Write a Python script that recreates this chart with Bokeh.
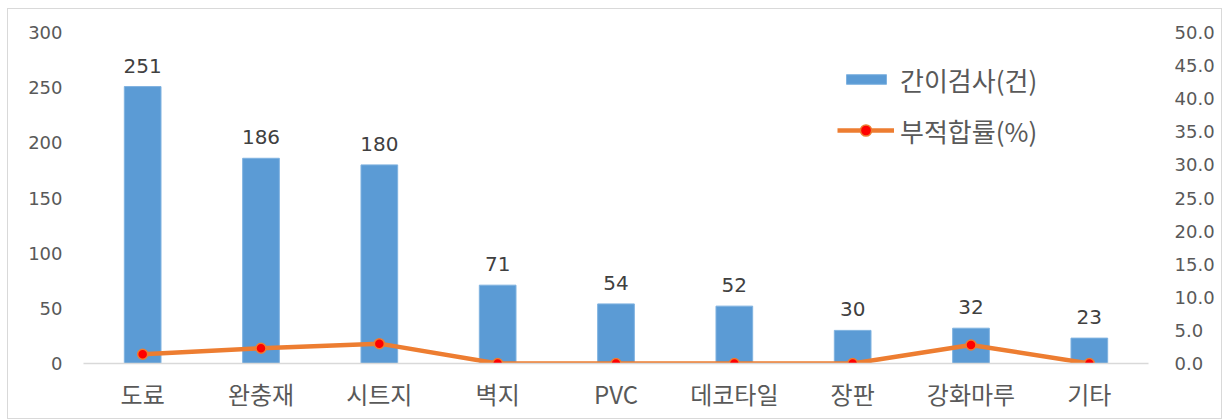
from bokeh.plotting import figure
from bokeh.models import (Range1d, LinearAxis, FixedTicker, NumeralTickFormatter,
                          ColumnDataSource, Legend, LegendItem, LabelSet)
from bokeh.embed import file_html
from bokeh.resources import INLINE
from bokeh.core.properties import value

categories = ["도료", "완충재", "시트지", "벽지", "PVC", "데코타일", "장판", "강화마루", "기타"]
counts = [251, 186, 180, 71, 54, 52, 30, 32, 23]
rates = [1.4, 2.3, 3.0, 0.0, 0.0, 0.0, 0.0, 2.8, 0.0]
left_ticks = [0, 50, 100, 150, 200, 250, 300]
right_ticks = [0, 5, 10, 15, 20, 25, 30, 35, 40, 45, 50]
bar_name = "간이검사(건)"
line_name = "부적합률(%)"

KFONT = "Noto Sans CJK KR"
NFONT = "DejaVu Sans"
BAR_C = "#5B9BD5"
LINE_C = "#ED7D31"
TXT = "#595959"

src = ColumnDataSource(dict(cat=categories, count=counts, rate=rates,
                            label=[str(c) for c in counts]))

p = figure(x_range=categories, y_range=Range1d(0, 300), width=1215, height=411,
           output_backend="svg", toolbar_location=None,
           min_border_left=75, min_border_right=75, min_border_top=23, min_border_bottom=57)
p.extra_y_ranges = {"rate": Range1d(0, 50)}
p.styles = {"margin-left": "7px", "margin-top": "8px", "border": "1px solid #D9D9D9"}

p.xgrid.grid_line_color = None
p.ygrid.grid_line_color = None
p.outline_line_color = None

bars = p.vbar(x="cat", top="count", width=0.31, source=src, fill_color=BAR_C,
              line_color="#7FB2E0", line_width=1)
ln = p.line(x="cat", y="rate", source=src, y_range_name="rate", line_color=LINE_C,
            line_width=4.5)
mk = p.scatter(x="cat", y="rate", source=src, y_range_name="rate", size=10,
               fill_color="#FF0000", line_color=LINE_C, line_width=1.5)

labels = LabelSet(x="cat", y="count", text="label", source=src, y_offset=21,
                  text_align="center", text_baseline="middle",
                  text_font=value(NFONT), text_font_size="20px", text_color="#404040")
p.add_layout(labels)

# left axis
la = p.yaxis[0]
la.ticker = FixedTicker(ticks=left_ticks)
la.axis_line_color = None
la.major_tick_line_color = None
la.minor_tick_line_color = None
la.major_label_text_font = NFONT
la.major_label_text_font_size = "18px"
la.major_label_text_color = TXT
la.major_label_standoff = 15

# right axis
ra = LinearAxis(y_range_name="rate", ticker=FixedTicker(ticks=right_ticks),
                formatter=NumeralTickFormatter(format="0.0"))
ra.axis_line_color = None
ra.major_tick_line_color = None
ra.minor_tick_line_color = None
ra.major_label_text_font = NFONT
ra.major_label_text_font_size = "18px"
ra.major_label_text_color = TXT
ra.major_label_standoff = 20
p.add_layout(ra, "right")

# bottom axis
xa = p.xaxis[0]
xa.axis_line_color = "#D9D9D9"
xa.axis_line_width = 1.5
xa.major_tick_line_color = None
xa.minor_tick_line_color = None
xa.major_label_text_font = KFONT
xa.major_label_text_font_size = "24px"
xa.major_label_text_color = TXT
xa.major_label_standoff = 6

common = dict(orientation="vertical", padding=0, margin=0, label_height=38,
              label_text_font=KFONT, label_text_font_size="26px",
              label_text_color=TXT, border_line_alpha=0, background_fill_alpha=0)
leg1 = Legend(items=[LegendItem(label=bar_name, renderers=[bars])],
              location=(758, 265), glyph_width=50, glyph_height=12,
              label_standoff=9, **common)
leg2 = Legend(items=[LegendItem(label=line_name, renderers=[ln, mk])],
              location=(754, 214), glyph_width=57, glyph_height=28,
              label_standoff=6, **common)
p.add_layout(leg1)
p.add_layout(leg2)

open("out.html", "w").write(file_html(p, INLINE))
